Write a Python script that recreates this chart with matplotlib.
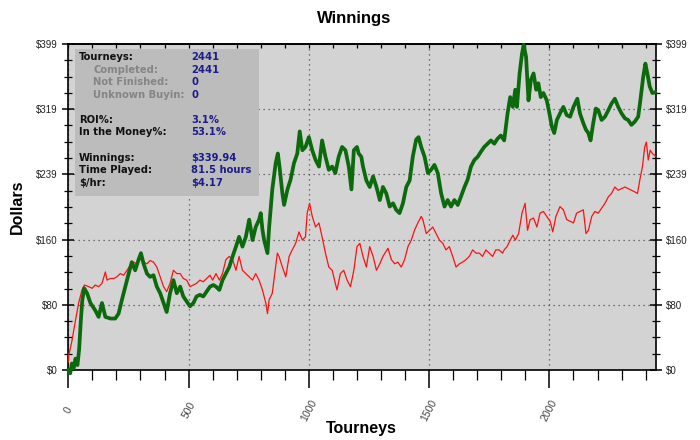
import numpy as np
import matplotlib
matplotlib.use("Agg")
import matplotlib.pyplot as plt
from matplotlib.patches import Rectangle
from matplotlib.ticker import FixedLocator, MultipleLocator, NullFormatter

# winnings curve (tourney number, dollars)
green_t = [0, 8, 15, 22, 30, 38, 45, 52, 58, 66, 78, 92, 112, 126, 140, 154, 175, 195, 209, 223,
           237, 251, 264, 278, 292, 302, 313, 327, 340, 354, 368, 382, 396, 409, 423, 437, 451, 465,
           478, 492, 506, 520, 533, 547, 561, 575, 589, 603, 614, 628, 641, 655, 669, 683, 697, 710,
           724, 738, 752, 759, 766, 779, 793, 800, 807, 814, 828, 835, 841, 848, 862, 871, 878, 890,
           897, 911, 924, 938, 952, 962, 973, 986, 1000, 1014, 1028, 1042, 1055, 1069, 1083, 1097,
           1110, 1124, 1138, 1152, 1166, 1177, 1187, 1200, 1207, 1218, 1225, 1239, 1253, 1267, 1281,
           1295, 1308, 1322, 1336, 1350, 1363, 1377, 1391, 1405, 1419, 1432, 1446, 1456, 1467, 1481,
           1495, 1508, 1522, 1536, 1550, 1564, 1577, 1591, 1605, 1619, 1632, 1647, 1660, 1674, 1688,
           1702, 1715, 1729, 1743, 1757, 1771, 1784, 1798, 1812, 1826, 1837, 1848, 1858, 1865, 1876,
           1886, 1893, 1903, 1913, 1923, 1934, 1945, 1954, 1964, 1975, 1989, 2000, 2010, 2020, 2031,
           2044, 2058, 2072, 2086, 2100, 2116, 2127, 2141, 2152, 2162, 2171, 2182, 2193, 2203, 2217,
           2231, 2245, 2258, 2272, 2286, 2300, 2314, 2327, 2341, 2355, 2369, 2378, 2390, 2399, 2407,
           2417, 2428, 2440]
green_d = [0, -4, 8, 2, 14, 6, 25, 60, 85, 100, 94, 82, 73, 65, 82, 65, 63, 63, 69, 86,
           102, 118, 132, 122, 135, 143, 130, 118, 114, 116, 102, 94, 82, 71, 94, 110, 94, 102,
           90, 84, 78, 82, 90, 92, 90, 96, 102, 104, 102, 98, 110, 118, 126, 139, 151, 163,
           151, 163, 184, 172, 159, 175, 184, 192, 172, 159, 143, 175, 196, 221, 253, 265, 249, 216,
           202, 221, 233, 253, 265, 292, 269, 273, 285, 269, 257, 249, 281, 261, 245, 249,
           241, 261, 273, 269, 249, 221, 269, 273, 265, 261, 249, 232, 224, 237, 224,
           208, 224, 216, 200, 204, 196, 192, 204, 224, 232, 261, 282, 285, 273, 261,
           241, 245, 251, 241, 216, 200, 208, 200, 208, 202, 212, 224, 233, 249, 257,
           261, 267, 273, 277, 281, 277, 283, 287, 281, 314, 334, 322, 343, 322, 363,
           387, 398, 383, 330, 355, 363, 343, 351, 334, 339, 330, 314, 298, 290, 306,
           314, 322, 312, 310, 322, 332, 314, 302, 294, 290, 281, 302, 320, 318, 306,
           310, 318, 326, 332, 322, 314, 308, 306, 300, 304, 310, 330, 359, 375, 363,
           347, 339, 340]

# second (red) curve
red_t = [0, 2, 16, 30, 43, 57, 67, 85, 99, 112, 126, 140, 154, 161, 175, 189, 202, 216, 230, 244,
         257, 271, 285, 299, 313, 327, 340, 354, 368, 382, 396, 409, 423, 437, 451, 465, 478, 492,
         506, 520, 533, 547, 561, 575, 589, 600, 614, 628, 641, 655, 669, 683, 697, 710, 724, 738,
         752, 766, 779, 793, 807, 821, 828, 835, 848, 862, 869, 876, 890, 904, 918, 931, 945, 959,
         973, 986, 993, 1003, 1014, 1028, 1042, 1055, 1069, 1083, 1097, 1110, 1117, 1131, 1145,
         1159, 1173, 1187, 1200, 1212, 1225, 1239, 1253, 1267, 1281, 1295, 1308, 1329, 1343, 1357,
         1370, 1384, 1398, 1412, 1426, 1439, 1453, 1467, 1474, 1488, 1502, 1515, 1529, 1543, 1557,
         1570, 1584, 1598, 1612, 1626, 1639, 1653, 1667, 1681, 1695, 1709, 1722, 1736, 1750, 1764,
         1777, 1791, 1805, 1812, 1824, 1837, 1848, 1858, 1872, 1886, 1899, 1909, 1920, 1934, 1948,
         1961, 1975, 1989, 2003, 2014, 2027, 2044, 2058, 2072, 2086, 2100, 2113, 2127, 2141, 2152,
         2162, 2176, 2189, 2203, 2217, 2231, 2245, 2258, 2272, 2286, 2300, 2314, 2327, 2341, 2355,
         2366, 2376, 2387, 2396, 2403, 2411, 2419, 2428, 2440]
red_d = [10, 18, 37, 61, 82, 98, 104, 102, 100, 104, 102, 106, 120, 110, 112, 112, 114, 118, 116, 122,
         128, 132, 130, 136, 132, 130, 134, 132, 126, 114, 102, 96, 106, 122, 118, 118, 112, 110,
         102, 104, 106, 110, 108, 112, 116, 110, 118, 110, 118, 135, 139, 135, 122, 139, 122, 118,
         114, 110, 118, 110, 98, 82, 69, 86, 94, 126, 143, 139, 126, 114, 139, 147, 155, 169,
         159, 163, 192, 204, 188, 175, 180, 163, 143, 126, 122, 106, 98, 118, 122,
         110, 102, 122, 151, 155, 139, 126, 151, 139, 122, 130, 139, 149, 135, 130,
         132, 126, 135, 151, 159, 171, 180, 188, 184, 167, 171, 175, 167, 159, 155,
         147, 151, 139, 126, 130, 132, 135, 139, 147, 143, 143, 139, 147, 143, 139,
         147, 147, 143, 147, 151, 159, 165, 159, 167, 192, 204, 171, 184, 186, 175,
         192, 194, 188, 182, 169, 188, 200, 196, 184, 182, 180, 192, 194, 196, 167,
         171, 188, 194, 192, 198, 204, 212, 216, 224, 220, 222, 224, 222, 220, 218,
         216, 233, 249, 273, 279, 257, 269, 265, 262]

stat_labels = ["Tourneys:", "Completed:", "Not Finished:", "Unknown Buyin:",
               "ROI%:", "In the Money%:", "Winnings:", "Time Played:", "$/hr:"]
stat_values = ["2441", "2441", "0", "0", "3.1%", "53.1%", "$339.94", "81.5 hours", "$4.17"]
stat_sub = [False, True, True, True, False, False, False, False, False]
stat_rows_y = [57, 70, 82, 95, 120, 132, 158, 170, 183]

n_tourneys = 2441
y_max = 399
x_major = [0, 500, 1000, 1500, 2000]

fig = plt.figure(figsize=(7, 4.4), dpi=100)
W, H = 700, 440
ax = fig.add_axes([68.3 / W, 1 - 370 / H, (655.5 - 68.3) / W, (370 - 44) / H])
ax.set_facecolor("#d3d3d3")

ax.plot(red_t, red_d, color="#ff1010", lw=0.9, zorder=3, clip_on=False)
ax.plot(green_t, green_d, color="#0b6a0b", lw=2.7, zorder=4, clip_on=False)

ax.set_xlim(0, n_tourneys)
ax.set_ylim(0, y_max)

yt = np.linspace(0, y_max, 6)
ax.yaxis.set_major_locator(FixedLocator(yt))
ax.yaxis.set_minor_locator(FixedLocator(np.linspace(0, y_max, 21)))
ax.set_yticklabels(["$%d" % round(v) for v in yt])
ax.xaxis.set_major_locator(FixedLocator(x_major))
ax.xaxis.set_minor_locator(MultipleLocator(100))
ax.set_xticklabels([str(v) for v in x_major], rotation=62, ha="center", va="center",
                   family="Liberation Sans")

ax.grid(True, which="major", color="#505050", lw=0.9, linestyle=(0, (1, 3)), zorder=1)
ax.set_axisbelow(True)

for s in ax.spines.values():
    s.set_linewidth(1.2)
    s.set_color("black")

ax.tick_params(axis="y", which="both", left=True, right=True, labelleft=True, labelright=True,
               direction="inout", labelsize=7, labelcolor="#222222")
ax.tick_params(axis="y", which="major", length=9, width=1.1, pad=3)
ax.tick_params(axis="y", which="minor", length=6, width=0.9)
ax.tick_params(axis="x", which="both", bottom=True, top=False, direction="out",
               labelsize=7.5, labelcolor="#444444")
ax.tick_params(axis="x", which="major", length=13, width=1.1, pad=16)
ax.tick_params(axis="x", which="minor", length=7, width=0.9)
for lab in ax.get_yticklabels():
    lab.set_family("Liberation Sans")

# small inward ticks along the top edge
top = ax.secondary_xaxis("top")
top.xaxis.set_major_locator(FixedLocator(x_major))
top.xaxis.set_minor_locator(MultipleLocator(100))
top.xaxis.set_major_formatter(NullFormatter())
top.tick_params(which="both", direction="in", length=3, width=0.9)
top.spines["top"].set_linewidth(1.2)

fig.text(354 / W, 1 - 18 / H, "Winnings", ha="center", va="center",
         fontsize=12, fontweight="bold", family="Liberation Sans")
fig.text(17 / W, 1 - 207 / H, "Dollars", ha="center", va="center", rotation=90,
         fontsize=11.5, fontweight="bold", family="Liberation Sans")
fig.text(361 / W, 1 - 428 / H, "Tourneys", ha="center", va="center",
         fontsize=11.5, fontweight="bold", family="Liberation Sans")

# stats box
box = Rectangle((75 / W, 1 - 196 / H), (259 - 75) / W, (196 - 49) / H,
                transform=fig.transFigure, facecolor="#bcbcbc", edgecolor="none", zorder=5)
fig.patches.append(box)
for lab, val, sub, yy in zip(stat_labels, stat_values, stat_sub, stat_rows_y):
    fig.text((93 if sub else 79) / W, 1 - yy / H, lab, ha="left", va="center",
             fontsize=7.2, fontweight="bold", color="#858585" if sub else "#111111", zorder=6)
    fig.text(191 / W, 1 - yy / H, val, ha="left", va="center",
             fontsize=7.2, fontweight="bold", color="#1c1c8a", zorder=6)

fig.savefig("out.png", dpi=100)
